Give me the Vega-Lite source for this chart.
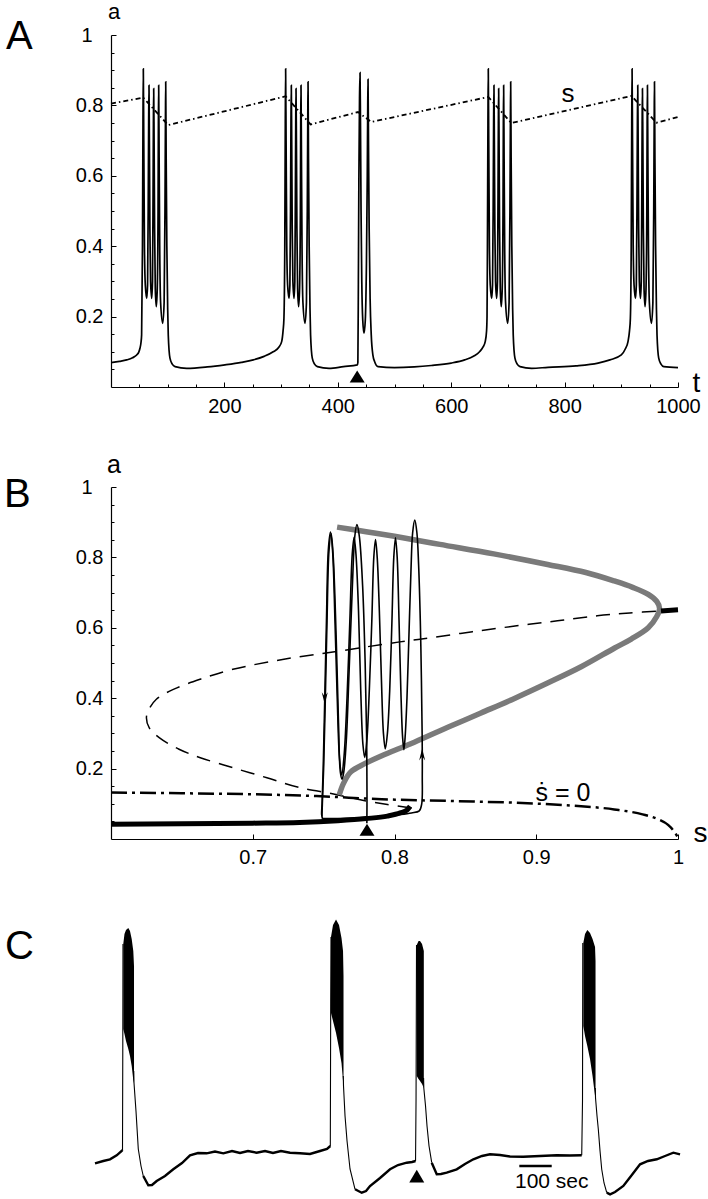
{
"$schema": "https://vega.github.io/schema/vega-lite/v6.json",
"padding": {"left": 4, "top": 0, "right": 0, "bottom": 0},
"background": "white",
"spacing": 100,
"bounds": "flush",
"config": {
  "view": {"stroke": null},
  "font": "Liberation Sans",
  "axis": {"grid": false, "domainColor": "black", "domainWidth": 1.2, "tickColor": "black", "tickWidth": 1, "labelColor": "black", "labelFont": "Liberation Sans", "labelFontSize": 20, "titleFont": "Liberation Sans", "titleFontWeight": "normal", "titleColor": "black", "labelOverlap": false, "labelFlush": false},
  "title": {"font": "Liberation Sans", "fontSize": 40, "fontWeight": "normal", "color": "black", "anchor": "start", "frame": "group", "offset": 0}
},
"datasets": {
  "A_a": [
    {"t":0,"a":0.0695},{"t":15,"a":0.073},{"t":27.7,"a":0.077},{"t":38,"a":0.083},{"t":45.3,"a":0.091},{"t":49,"a":0.099},{"t":51.1,"a":0.11},{"t":52.8,"a":0.125},{"t":54,"a":0.148},
    {"t":55.5,"a":0.4},{"t":56.4,"a":0.75},{"t":57,"a":0.904},{"t":57.8,"a":0.7},{"t":59,"a":0.4},{"t":60.5,"a":0.29},{"t":63,"a":0.252},{"t":64.5,"a":0.29},{"t":65.6,"a":0.5},{"t":66.4,"a":0.75},{"t":67,"a":0.857},{"t":67.7,"a":0.7},{"t":68.6,"a":0.45},{"t":69.8,"a":0.3},{"t":71.8,"a":0.252},{"t":73.2,"a":0.3},{"t":74.2,"a":0.55},{"t":74.8,"a":0.75},{"t":75.3,"a":0.848},{"t":76,"a":0.7},{"t":76.9,"a":0.45},{"t":78.1,"a":0.28},{"t":79.9,"a":0.228},{"t":81.6,"a":0.28},{"t":83,"a":0.5},{"t":83.6,"a":0.75},{"t":84.1,"a":0.857},{"t":84.9,"a":0.65},{"t":85.9,"a":0.4},{"t":87.5,"a":0.24},{"t":91.2,"a":0.181},{"t":93.7,"a":0.24},{"t":95.2,"a":0.5},{"t":96,"a":0.75},{"t":96.5,"a":0.867},{"t":97.3,"a":0.65},{"t":98.5,"a":0.4},{"t":100,"a":0.22},{"t":101,"a":0.148},{"t":104,"a":0.082},{"t":108,"a":0.065},{"t":113,"a":0.058},{"t":133.5,"a":0.053},
    {"t":170,"a":0.057},{"t":201,"a":0.063},{"t":230,"a":0.07},{"t":251,"a":0.077},{"t":270,"a":0.087},{"t":286,"a":0.1},{"t":296,"a":0.113},{"t":301,"a":0.129},{"t":303.5,"a":0.16},{"t":305,"a":0.195},
    {"t":306.5,"a":0.4},{"t":307.4,"a":0.75},{"t":308,"a":0.904},{"t":308.8,"a":0.7},{"t":310,"a":0.4},{"t":311.5,"a":0.29},{"t":314,"a":0.252},{"t":315.5,"a":0.29},{"t":316.6,"a":0.5},{"t":317.4,"a":0.75},{"t":318,"a":0.857},{"t":318.7,"a":0.7},{"t":319.6,"a":0.45},{"t":320.8,"a":0.3},{"t":322.8,"a":0.252},{"t":324.2,"a":0.3},{"t":325.2,"a":0.55},{"t":325.8,"a":0.75},{"t":326.3,"a":0.848},{"t":327,"a":0.7},{"t":327.9,"a":0.45},{"t":329.1,"a":0.28},{"t":330.9,"a":0.228},{"t":332.6,"a":0.28},{"t":334,"a":0.5},{"t":334.6,"a":0.75},{"t":335.1,"a":0.857},{"t":335.9,"a":0.65},{"t":336.9,"a":0.4},{"t":338.5,"a":0.24},{"t":342.2,"a":0.181},{"t":344.7,"a":0.24},{"t":346.2,"a":0.5},{"t":347,"a":0.75},{"t":347.5,"a":0.867},{"t":348.3,"a":0.65},{"t":349.5,"a":0.4},{"t":351,"a":0.22},{"t":352,"a":0.148},{"t":355,"a":0.082},{"t":359,"a":0.065},{"t":364,"a":0.058},{"t":384.5,"a":0.053},
    {"t":410,"a":0.058},{"t":434.5,"a":0.063},
    {"t":435.4,"a":0.07},{"t":436.3,"a":0.3},{"t":437.2,"a":0.6},{"t":438.3,"a":0.82},{"t":439.2,"a":0.893},{"t":440,"a":0.75},{"t":441,"a":0.5},{"t":442.3,"a":0.3},{"t":444,"a":0.19},{"t":446.2,"a":0.153},{"t":448.5,"a":0.19},{"t":450.5,"a":0.35},{"t":452,"a":0.6},{"t":452.8,"a":0.8},{"t":453.3,"a":0.874},{"t":454.1,"a":0.7},{"t":455.3,"a":0.45},{"t":457,"a":0.25},{"t":459,"a":0.148},{"t":462,"a":0.09},{"t":465,"a":0.072},{"t":471,"a":0.058},{"t":500,"a":0.055},{"t":535,"a":0.057},{"t":565,"a":0.061},{"t":600,"a":0.068},{"t":623.8,"a":0.077},{"t":640,"a":0.088},{"t":650,"a":0.1},{"t":656,"a":0.113},{"t":660,"a":0.129},{"t":662.4,"a":0.16},{"t":663.2,"a":0.2},
    {"t":663.9,"a":0.4},{"t":664.8,"a":0.75},{"t":665.4,"a":0.904},{"t":666.2,"a":0.7},{"t":667.4,"a":0.4},{"t":668.9,"a":0.29},{"t":671.4,"a":0.252},{"t":672.9,"a":0.29},{"t":674,"a":0.5},{"t":674.8,"a":0.75},{"t":675.4,"a":0.857},{"t":676.1,"a":0.7},{"t":677,"a":0.45},{"t":678.2,"a":0.3},{"t":680.2,"a":0.252},{"t":681.6,"a":0.3},{"t":682.6,"a":0.55},{"t":683.2,"a":0.75},{"t":683.7,"a":0.848},{"t":684.4,"a":0.7},{"t":685.3,"a":0.45},{"t":686.5,"a":0.28},{"t":688.3,"a":0.228},{"t":690,"a":0.28},{"t":691.4,"a":0.5},{"t":692,"a":0.75},{"t":692.5,"a":0.857},{"t":693.3,"a":0.65},{"t":694.3,"a":0.4},{"t":695.9,"a":0.24},{"t":699.6,"a":0.181},{"t":702.1,"a":0.24},{"t":703.6,"a":0.5},{"t":704.4,"a":0.75},{"t":704.9,"a":0.867},{"t":705.7,"a":0.65},{"t":706.9,"a":0.4},{"t":708.4,"a":0.22},{"t":709.4,"a":0.148},{"t":712.4,"a":0.082},{"t":716.4,"a":0.065},{"t":721.4,"a":0.058},{"t":741.9,"a":0.053},
    {"t":770.7,"a":0.056},{"t":820,"a":0.06},{"t":859,"a":0.068},{"t":880,"a":0.077},{"t":900,"a":0.091},{"t":907,"a":0.108},{"t":911.8,"a":0.129},{"t":914.5,"a":0.16},{"t":916,"a":0.195},
    {"t":917.5,"a":0.4},{"t":918.4,"a":0.75},{"t":919,"a":0.904},{"t":919.8,"a":0.7},{"t":921,"a":0.4},{"t":922.5,"a":0.29},{"t":925,"a":0.252},{"t":926.5,"a":0.29},{"t":927.6,"a":0.5},{"t":928.4,"a":0.75},{"t":929,"a":0.857},{"t":929.7,"a":0.7},{"t":930.6,"a":0.45},{"t":931.8,"a":0.3},{"t":933.8,"a":0.252},{"t":935.2,"a":0.3},{"t":936.2,"a":0.55},{"t":936.8,"a":0.75},{"t":937.3,"a":0.848},{"t":938,"a":0.7},{"t":938.9,"a":0.45},{"t":940.1,"a":0.28},{"t":941.9,"a":0.228},{"t":943.6,"a":0.28},{"t":945,"a":0.5},{"t":945.6,"a":0.75},{"t":946.1,"a":0.857},{"t":946.9,"a":0.65},{"t":947.9,"a":0.4},{"t":949.5,"a":0.24},{"t":953.2,"a":0.181},{"t":955.7,"a":0.24},{"t":957.2,"a":0.5},{"t":958,"a":0.75},{"t":958.5,"a":0.867},{"t":959.3,"a":0.65},{"t":960.5,"a":0.4},{"t":962,"a":0.22},{"t":963,"a":0.148},{"t":966,"a":0.082},{"t":970,"a":0.065},{"t":975,"a":0.058},{"t":1000,"a":0.055}
  ],
  "A_s": [
    {"t":0,"a":0.805},{"t":57,"a":0.822},{"t":101,"a":0.744},{"t":308,"a":0.826},{"t":352,"a":0.746},{"t":435.6,"a":0.781},{"t":459,"a":0.753},{"t":665.4,"a":0.824},{"t":706,"a":0.75},{"t":918,"a":0.827},{"t":962,"a":0.751},{"t":1000,"a":0.767}
  ],
  "B_mid": [
    {"i":1,"s":0.812,"a":0.088},{"i":2,"s":0.795,"a":0.098},{"i":3,"s":0.775,"a":0.112},{"i":4,"s":0.757,"a":0.128},{"i":5,"s":0.733,"a":0.146},{"i":6,"s":0.71,"a":0.174},{"i":7,"s":0.686,"a":0.2025},{"i":8,"s":0.663,"a":0.231},{"i":9,"s":0.648,"a":0.255},{"i":10,"s":0.634,"a":0.288},{"i":11,"s":0.627,"a":0.316},{"i":12,"s":0.625,"a":0.345},{"i":13,"s":0.627,"a":0.37},{"i":14,"s":0.632,"a":0.397},{"i":15,"s":0.644,"a":0.425},{"i":16,"s":0.663,"a":0.454},{"i":17,"s":0.686,"a":0.482},{"i":18,"s":0.721,"a":0.51},{"i":19,"s":0.761,"a":0.534},{"i":20,"s":0.8037,"a":0.56},{"i":21,"s":0.826,"a":0.572},{"i":22,"s":0.855,"a":0.589},{"i":23,"s":0.885,"a":0.605},{"i":24,"s":0.915,"a":0.62},{"i":25,"s":0.943,"a":0.634},{"i":26,"s":0.966,"a":0.642},{"i":27,"s":0.988,"a":0.648}
  ],
  "B_null": [
    {"s":0.6,"a":0.132},{"s":0.65,"a":0.13},{"s":0.7,"a":0.127},{"s":0.745,"a":0.122},{"s":0.791,"a":0.113},{"s":0.84,"a":0.108},{"s":0.885,"a":0.103},{"s":0.92,"a":0.096},{"s":0.955,"a":0.084},{"s":0.975,"a":0.07},{"s":0.986,"a":0.056},{"s":0.993,"a":0.04},{"s":0.997,"a":0.023},{"s":1.0,"a":0.004}
  ],
  "B_gray": [
    {"i":1,"s":0.7595,"a":0.886},{"i":2,"s":0.78,"a":0.873},{"i":3,"s":0.8,"a":0.86},{"i":4,"s":0.832,"a":0.837},{"i":5,"s":0.87,"a":0.81},{"i":6,"s":0.908,"a":0.78},{"i":7,"s":0.935,"a":0.757},{"i":8,"s":0.955,"a":0.733},{"i":9,"s":0.968,"a":0.715},{"i":10,"s":0.979,"a":0.695},{"i":11,"s":0.985,"a":0.675},{"i":12,"s":0.987,"a":0.655},{"i":13,"s":0.985,"a":0.632},{"i":14,"s":0.979,"a":0.6},{"i":15,"s":0.967,"a":0.568},{"i":16,"s":0.955,"a":0.542},{"i":17,"s":0.932,"a":0.49},{"i":18,"s":0.908,"a":0.443},{"i":19,"s":0.885,"a":0.4},{"i":20,"s":0.861,"a":0.358},{"i":21,"s":0.838,"a":0.318},{"i":22,"s":0.814,"a":0.275},{"i":23,"s":0.7906,"a":0.236},{"i":24,"s":0.779,"a":0.214},{"i":25,"s":0.769,"a":0.19},{"i":26,"s":0.764,"a":0.158},{"i":27,"s":0.761,"a":0.125}
  ],
  "B_stable": [
    {"g":"low","s":0.6,"a":0.042},{"g":"low","s":0.65,"a":0.043},{"g":"low","s":0.7,"a":0.045},{"g":"low","s":0.733,"a":0.047},{"g":"low","s":0.76,"a":0.052},{"g":"low","s":0.78,"a":0.058},{"g":"low","s":0.795,"a":0.065},{"g":"low","s":0.804,"a":0.074},{"g":"low","s":0.809,"a":0.083},{"g":"low","s":0.811,"a":0.093},
    {"g":"high","s":0.988,"a":0.648},{"g":"high","s":1.0,"a":0.651}
  ],
  "B_traj": [
    {"g":"burst","i":1,"s":0.7487,"a":0.058},{"g":"burst","i":2,"s":0.76,"a":0.058},{"g":"burst","i":3,"s":0.775,"a":0.06},{"g":"burst","i":4,"s":0.79,"a":0.064},{"g":"burst","i":5,"s":0.803,"a":0.069},{"g":"burst","i":6,"s":0.812,"a":0.074},{"g":"burst","i":7,"s":0.8175,"a":0.08},{"g":"burst","i":8,"s":0.8192,"a":0.1},{"g":"burst","i":9,"s":0.8196,"a":0.18},{"g":"burst","i":10,"s":0.8195,"a":0.3},
    {"g":"burst","i":11,"s":0.819,"a":0.45},{"g":"burst","i":12,"s":0.8182,"a":0.62},{"g":"burst","i":13,"s":0.817,"a":0.78},{"g":"burst","i":14,"s":0.8158,"a":0.87},{"g":"burst","i":15,"s":0.8143,"a":0.906},{"g":"burst","i":16,"s":0.8128,"a":0.87},{"g":"burst","i":17,"s":0.8116,"a":0.76},{"g":"burst","i":18,"s":0.8102,"a":0.58},{"g":"burst","i":19,"s":0.8088,"a":0.4},{"g":"burst","i":20,"s":0.8075,"a":0.29},
    {"g":"burst","i":21,"s":0.8066,"a":0.254},{"g":"burst","i":22,"s":0.8057,"a":0.29},{"g":"burst","i":23,"s":0.8045,"a":0.42},{"g":"burst","i":24,"s":0.8032,"a":0.62},{"g":"burst","i":25,"s":0.8019,"a":0.8},{"g":"burst","i":26,"s":0.8007,"a":0.856},{"g":"burst","i":27,"s":0.7995,"a":0.8},{"g":"burst","i":28,"s":0.7982,"a":0.62},{"g":"burst","i":29,"s":0.7966,"a":0.42},{"g":"burst","i":30,"s":0.795,"a":0.3},
    {"g":"burst","i":31,"s":0.7935,"a":0.256},{"g":"burst","i":32,"s":0.7922,"a":0.3},{"g":"burst","i":33,"s":0.7908,"a":0.45},{"g":"burst","i":34,"s":0.7893,"a":0.65},{"g":"burst","i":35,"s":0.7878,"a":0.8},{"g":"burst","i":36,"s":0.7866,"a":0.851},{"g":"burst","i":37,"s":0.7854,"a":0.8},{"g":"burst","i":38,"s":0.784,"a":0.62},{"g":"burst","i":39,"s":0.7822,"a":0.42},{"g":"burst","i":40,"s":0.7805,"a":0.28},
    {"g":"burst","i":41,"s":0.779,"a":0.232},{"g":"burst","i":42,"s":0.7777,"a":0.27},{"g":"burst","i":43,"s":0.7762,"a":0.42},{"g":"burst","i":44,"s":0.7746,"a":0.65},{"g":"burst","i":45,"s":0.7728,"a":0.81},{"g":"burst","i":46,"s":0.7715,"a":0.857},{"g":"burst","i":47,"s":0.7702,"a":0.81},{"g":"burst","i":48,"s":0.7685,"a":0.62},{"g":"burst","i":49,"s":0.7665,"a":0.4},{"g":"burst","i":50,"s":0.7645,"a":0.24},
    {"g":"burst","i":51,"s":0.7628,"a":0.182},{"g":"burst","i":52,"s":0.7612,"a":0.23},{"g":"burst","i":53,"s":0.7596,"a":0.4},{"g":"burst","i":54,"s":0.758,"a":0.62},{"g":"burst","i":55,"s":0.7563,"a":0.82},{"g":"burst","i":56,"s":0.7548,"a":0.872},{"g":"burst","i":57,"s":0.7533,"a":0.82},{"g":"burst","i":58,"s":0.752,"a":0.62},{"g":"burst","i":59,"s":0.7508,"a":0.4},{"g":"burst","i":60,"s":0.7497,"a":0.2},
    {"g":"burst","i":61,"s":0.7489,"a":0.1},{"g":"burst","i":62,"s":0.7486,"a":0.07},{"g":"burst","i":63,"s":0.7492,"a":0.058},
    {"g":"kick","i":1,"s":0.7805,"a":0.045},{"g":"kick","i":2,"s":0.7806,"a":0.12},{"g":"kick","i":3,"s":0.7803,"a":0.3},{"g":"kick","i":4,"s":0.7793,"a":0.5},{"g":"kick","i":5,"s":0.7775,"a":0.72},{"g":"kick","i":6,"s":0.7752,"a":0.86},{"g":"kick","i":7,"s":0.7735,"a":0.893},{"g":"kick","i":8,"s":0.772,"a":0.86},{"g":"kick","i":9,"s":0.7703,"a":0.72},{"g":"kick","i":10,"s":0.768,"a":0.48},
    {"g":"kick","i":11,"s":0.766,"a":0.28},{"g":"kick","i":12,"s":0.7642,"a":0.19},{"g":"kick","i":13,"s":0.763,"a":0.17},{"g":"kick","i":14,"s":0.7618,"a":0.19},{"g":"kick","i":15,"s":0.7605,"a":0.33},{"g":"kick","i":16,"s":0.7588,"a":0.58},{"g":"kick","i":17,"s":0.7568,"a":0.8},{"g":"kick","i":18,"s":0.7553,"a":0.868},{"g":"kick","i":19,"s":0.7538,"a":0.82},{"g":"kick","i":20,"s":0.7524,"a":0.62},
    {"g":"kick","i":21,"s":0.7512,"a":0.4},{"g":"kick","i":22,"s":0.75,"a":0.2},{"g":"kick","i":23,"s":0.7491,"a":0.1},{"g":"kick","i":24,"s":0.7488,"a":0.065}
  ],
  "C_trace": [
    {"part":1,"phase":"slow","sec":0,"v":32.7},{"part":1,"phase":"slow","sec":25.6,"v":35},{"part":1,"phase":"slow","sec":46.3,"v":36.7},{"part":1,"phase":"slow","sec":67,"v":40.7},{"part":1,"phase":"slow","sec":82.4,"v":45},{"part":1,"phase":"slow","sec":84.9,"v":46},
    {"part":2,"phase":"fast","sec":84.9,"v":46},{"part":2,"phase":"fast","sec":85.8,"v":150},{"part":2,"phase":"fast","sec":86.4,"v":252},
    {"part":3,"phase":"fast","sec":119.6,"v":125},{"part":3,"phase":"fast","sec":120.4,"v":113},{"part":3,"phase":"fast","sec":126.5,"v":85},{"part":3,"phase":"fast","sec":133.6,"v":47},{"part":3,"phase":"fast","sec":142,"v":30},{"part":3,"phase":"fast","sec":149,"v":20},
    {"part":4,"phase":"slow","sec":149,"v":20},{"part":4,"phase":"slow","sec":164.5,"v":10.7},{"part":4,"phase":"slow","sec":175.9,"v":11},{"part":4,"phase":"slow","sec":190.4,"v":15},{"part":4,"phase":"slow","sec":216,"v":20},{"part":4,"phase":"slow","sec":241.6,"v":26.7},{"part":4,"phase":"slow","sec":268.5,"v":33},{"part":4,"phase":"slow","sec":293.2,"v":40.7},{"part":4,"phase":"slow","sec":317.9,"v":43},{"part":4,"phase":"slow","sec":344.7,"v":42.7},{"part":4,"phase":"slow","sec":370.3,"v":44.5},{"part":4,"phase":"slow","sec":396,"v":42.7},{"part":4,"phase":"slow","sec":422.8,"v":45},{"part":4,"phase":"slow","sec":447.5,"v":43},{"part":4,"phase":"slow","sec":472.2,"v":45},{"part":4,"phase":"slow","sec":499,"v":43.3},{"part":4,"phase":"slow","sec":524.6,"v":45},{"part":4,"phase":"slow","sec":549.3,"v":43},{"part":4,"phase":"slow","sec":574,"v":45},{"part":4,"phase":"slow","sec":601.8,"v":43.3},{"part":4,"phase":"slow","sec":632.6,"v":42.7},{"part":4,"phase":"slow","sec":663.5,"v":42},{"part":4,"phase":"slow","sec":694.4,"v":45},{"part":4,"phase":"slow","sec":716,"v":47},{"part":4,"phase":"slow","sec":726.2,"v":50},
    {"part":5,"phase":"fast","sec":726.2,"v":50},{"part":5,"phase":"fast","sec":727.4,"v":195},{"part":5,"phase":"fast","sec":728.3,"v":259},
    {"part":6,"phase":"fast","sec":766.2,"v":120},{"part":6,"phase":"fast","sec":766.9,"v":110},{"part":6,"phase":"fast","sec":771.6,"v":80},{"part":6,"phase":"fast","sec":777.8,"v":55},{"part":6,"phase":"fast","sec":787,"v":27},{"part":6,"phase":"fast","sec":802.5,"v":6.7},
    {"part":7,"phase":"slow","sec":802.5,"v":6.7},{"part":7,"phase":"slow","sec":823.1,"v":3.3},{"part":7,"phase":"slow","sec":836.4,"v":5},{"part":7,"phase":"slow","sec":848.7,"v":10},{"part":7,"phase":"slow","sec":879.6,"v":18},{"part":7,"phase":"slow","sec":910.5,"v":26.7},{"part":7,"phase":"slow","sec":935.1,"v":31},{"part":7,"phase":"slow","sec":962,"v":33.3},{"part":7,"phase":"slow","sec":978.4,"v":34},{"part":7,"phase":"slow","sec":989.2,"v":35},
    {"part":8,"phase":"fast","sec":989.2,"v":35},{"part":8,"phase":"fast","sec":990.7,"v":95},{"part":8,"phase":"fast","sec":992.2,"v":251},
    {"part":9,"phase":"fast","sec":1014,"v":118},{"part":9,"phase":"fast","sec":1014.7,"v":108},{"part":9,"phase":"fast","sec":1020,"v":90},{"part":9,"phase":"fast","sec":1024.6,"v":70},{"part":9,"phase":"fast","sec":1030.8,"v":50},{"part":9,"phase":"fast","sec":1039.1,"v":33.3},
    {"part":10,"phase":"slow","sec":1039.1,"v":33.3},{"part":10,"phase":"slow","sec":1054.6,"v":21.7},{"part":10,"phase":"slow","sec":1067.7,"v":22},{"part":10,"phase":"slow","sec":1085.3,"v":23.3},{"part":10,"phase":"slow","sec":1116.2,"v":26.7},{"part":10,"phase":"slow","sec":1141.8,"v":32},{"part":10,"phase":"slow","sec":1167.5,"v":36.7},{"part":10,"phase":"slow","sec":1194.3,"v":40},{"part":10,"phase":"slow","sec":1219,"v":41.7},{"part":10,"phase":"slow","sec":1249.8,"v":41},{"part":10,"phase":"slow","sec":1280.7,"v":39.5},{"part":10,"phase":"slow","sec":1321.8,"v":39.3},{"part":10,"phase":"slow","sec":1373.3,"v":40},{"part":10,"phase":"slow","sec":1424.8,"v":40.7},{"part":10,"phase":"slow","sec":1465.8,"v":40.5},{"part":10,"phase":"slow","sec":1502,"v":40.7},
    {"part":11,"phase":"fast","sec":1502,"v":40.7},{"part":11,"phase":"fast","sec":1504.4,"v":95},{"part":11,"phase":"fast","sec":1505.3,"v":253},
    {"part":12,"phase":"fast","sec":1543.9,"v":108},{"part":12,"phase":"fast","sec":1544.6,"v":98},{"part":12,"phase":"fast","sec":1549.2,"v":80},{"part":12,"phase":"fast","sec":1553.2,"v":66.7},{"part":12,"phase":"fast","sec":1558.5,"v":45},{"part":12,"phase":"fast","sec":1563.7,"v":26.7},{"part":12,"phase":"fast","sec":1570.8,"v":13},{"part":12,"phase":"fast","sec":1579.2,"v":3.3},
    {"part":13,"phase":"slow","sec":1579.2,"v":3.3},{"part":13,"phase":"slow","sec":1589.4,"v":1.7},{"part":13,"phase":"slow","sec":1604.8,"v":4},{"part":13,"phase":"slow","sec":1630.4,"v":10},{"part":13,"phase":"slow","sec":1654.2,"v":20},{"part":13,"phase":"slow","sec":1682,"v":31.7},{"part":13,"phase":"slow","sec":1706.6,"v":35},{"part":13,"phase":"slow","sec":1733.5,"v":36.7},{"part":13,"phase":"slow","sec":1759.1,"v":40},{"part":13,"phase":"slow","sec":1784.7,"v":43.3},{"part":13,"phase":"slow","sec":1805.4,"v":41.7}
  ],
  "C_burst": [
    {"burst":1,"sec":87.3,"top":252,"bot":167},{"burst":1,"sec":91,"top":262,"bot":162},{"burst":1,"sec":95.7,"top":266,"bot":155},{"burst":1,"sec":102.8,"top":268,"bot":147},{"burst":1,"sec":108,"top":265,"bot":140},{"burst":1,"sec":113.3,"top":257,"bot":130},{"burst":1,"sec":118.2,"top":245,"bot":116},{"burst":1,"sec":120.4,"top":230,"bot":113},
    {"burst":2,"sec":728.3,"top":259,"bot":183},{"burst":2,"sec":734.5,"top":271,"bot":175},{"burst":2,"sec":743.8,"top":276.5,"bot":163},{"burst":2,"sec":753,"top":271,"bot":148},{"burst":2,"sec":760.7,"top":258,"bot":133},{"burst":2,"sec":765.4,"top":245,"bot":115},{"burst":2,"sec":766.9,"top":220,"bot":110},
    {"burst":3,"sec":992.9,"top":251,"bot":120},{"burst":3,"sec":998.5,"top":255,"bot":117},{"burst":3,"sec":1003,"top":255,"bot":115},{"burst":3,"sec":1009.2,"top":252,"bot":112},{"burst":3,"sec":1014.7,"top":245,"bot":108},
    {"burst":4,"sec":1506.9,"top":253,"bot":170},{"burst":4,"sec":1512.2,"top":262,"bot":160},{"burst":4,"sec":1519.3,"top":266,"bot":150},{"burst":4,"sec":1527.6,"top":263,"bot":137},{"burst":4,"sec":1535.4,"top":257,"bot":120},{"burst":4,"sec":1543.1,"top":249,"bot":100},{"burst":4,"sec":1544.6,"top":235,"bot":98}
  ]
},
"vconcat": [
  {
    "width": 567, "height": 352,
    "title": {"text": "A", "dx": -105, "dy": 61},
    "encoding": {
      "x": {"field": "t", "type": "quantitative", "scale": {"domain": [0, 1000], "nice": false, "zero": false},
        "axis": {"values": [50,100,150,200,250,300,350,400,450,500,550,600,650,700,750,800,850,900,950,1000], "format": "d",
          "labelExpr": "datum.value % 200 === 0 ? datum.label : ''",
          "tickSize": {"condition": {"test": "datum.value % 200 === 0", "value": -5}, "value": -3},
          "labelPadding": 14.5, "title": "t", "titleX": 585, "titleY": 4, "titleAlign": "center", "titleBaseline": "alphabetic", "titleFontSize": 28}},
      "y": {"field": "a", "type": "quantitative", "scale": {"domain": [0, 1], "nice": false},
        "axis": {"values": [0.05,0.1,0.15,0.2,0.25,0.3,0.35,0.4,0.45,0.5,0.55,0.6,0.65,0.7,0.75,0.8,0.85,0.9,0.95,1], "format": "~g",
          "labelExpr": "abs(round(datum.value*5) - datum.value*5) < 0.001 ? datum.label : ''",
          "tickSize": {"condition": {"test": "abs(round(datum.value*5) - datum.value*5) < 0.001", "value": -5}, "value": -3},
          "labelPadding": {"condition": {"test": "datum.value > 0.99", "value": 24}, "value": 13},
          "title": "a", "titleAngle": 0, "titleX": 2.5, "titleY": -17, "titleAlign": "center", "titleBaseline": "alphabetic", "titleFontSize": 22}}
    },
    "layer": [
      {"data": {"name": "A_a"}, "mark": {"type": "line", "color": "black", "strokeWidth": 1.7, "interpolate": "monotone"}, "encoding": {}},
      {"data": {"name": "A_s"}, "mark": {"type": "line", "color": "black", "strokeWidth": 1.8, "strokeDash": [5, 3, 1.5, 3]}, "encoding": {}},
      {"data": {"values": [{"t": 806, "a": 0.81, "label": "s"}]}, "mark": {"type": "text", "fontSize": 26, "baseline": "alphabetic", "align": "center", "font": "Liberation Sans", "color": "black"}, "encoding": {"text": {"field": "label"}}},
      {"data": {"values": [{"t": 434.2, "a": 0.03}]}, "mark": {"type": "point", "shape": "M-1,0.8L1,0.8L0,-0.8Z", "size": 225, "filled": true, "color": "black", "opacity": 1}, "encoding": {}}
    ]
  },
  {
    "width": 567, "height": 352,
    "title": {"text": "B", "dx": -107, "dy": 66},
    "encoding": {
      "x": {"field": "s", "type": "quantitative", "scale": {"domain": [0.6, 1.0], "nice": false, "zero": false},
        "axis": {"values": [0.7, 0.8, 0.9, 1], "format": "~g", "tickSize": -5, "labelPadding": 13,
          "title": "s", "titleX": 589, "titleY": 2, "titleAlign": "center", "titleBaseline": "alphabetic", "titleFontSize": 28}},
      "y": {"field": "a", "type": "quantitative", "scale": {"domain": [0, 1], "nice": false},
        "axis": {"values": [0.05,0.1,0.15,0.2,0.25,0.3,0.35,0.4,0.45,0.5,0.55,0.6,0.65,0.7,0.75,0.8,0.85,0.9,0.95,1], "format": "~g",
          "labelExpr": "abs(round(datum.value*5) - datum.value*5) < 0.001 ? datum.label : ''",
          "tickSize": {"condition": {"test": "abs(round(datum.value*5) - datum.value*5) < 0.001", "value": -5}, "value": -3},
          "labelPadding": {"condition": {"test": "datum.value > 0.99", "value": 24}, "value": 13},
          "title": "a", "titleAngle": 0, "titleX": 2.4, "titleY": -14.3, "titleAlign": "center", "titleBaseline": "alphabetic", "titleFontSize": 25}}
    },
    "layer": [
      {"data": {"name": "B_mid"}, "mark": {"type": "line", "color": "black", "strokeWidth": 1.5, "strokeDash": [14, 9], "interpolate": "catmull-rom"}, "encoding": {"order": {"field": "i", "type": "quantitative"}}},
      {"data": {"name": "B_null"}, "mark": {"type": "line", "color": "black", "strokeWidth": 2.5, "strokeDash": [16, 5, 3, 5], "interpolate": "monotone"}, "encoding": {}},
      {"data": {"name": "B_gray"}, "mark": {"type": "line", "color": "#7a7a7a", "strokeWidth": 5.5, "interpolate": "catmull-rom"}, "encoding": {"order": {"field": "i", "type": "quantitative"}}},
      {"data": {"name": "B_stable"}, "mark": {"type": "line", "color": "black", "strokeWidth": 5, "interpolate": "monotone"}, "encoding": {"detail": {"field": "g"}}},
      {"data": {"name": "B_traj"}, "mark": {"type": "line", "color": "black", "strokeWidth": 1.6, "interpolate": "catmull-rom"}, "encoding": {"detail": {"field": "g"}, "order": {"field": "i", "type": "quantitative"}}},
      {"data": {"values": [{"s": 0.7508, "a": 0.4, "dir": "down"}, {"s": 0.8195, "a": 0.24, "dir": "up"}]}, "mark": {"type": "point", "size": 144, "filled": true, "color": "black", "opacity": 1},
        "encoding": {"shape": {"field": "dir", "type": "nominal", "scale": {"domain": ["down", "up"], "range": ["M-0.5,-1L0,1L0.5,-1L0,-0.3Z", "M-0.5,1L0,-1L0.5,1L0,0.3Z"]}, "legend": null}}},
      {"data": {"values": [{"s": 0.7806, "a": 0.026}]}, "mark": {"type": "point", "shape": "M-1,0.8L1,0.8L0,-0.8Z", "size": 225, "filled": true, "color": "black", "opacity": 1}, "encoding": {}},
      {"data": {"values": [{"s": 0.9188, "a": 0.108, "label": "ṡ = 0"}]}, "mark": {"type": "text", "fontSize": 25, "baseline": "alphabetic", "align": "center", "font": "Liberation Sans", "color": "black"}, "encoding": {"text": {"field": "label"}}}
    ]
  },
  {
    "width": 567, "height": 257,
    "title": {"text": "C", "dx": -106, "dy": 51},
    "encoding": {
      "x": {"field": "sec", "type": "quantitative", "scale": {"domain": [49.4, 1799.1], "nice": false, "zero": false}, "axis": null},
      "y": {"field": "v", "type": "quantitative", "scale": {"domain": [0, 257], "nice": false}, "axis": null}
    },
    "layer": [
      {"data": {"name": "C_trace"}, "transform": [{"filter": "datum.phase === 'fast'"}], "mark": {"type": "line", "color": "black", "strokeWidth": 1.1}, "encoding": {"detail": {"field": "part"}}},
      {"data": {"name": "C_trace"}, "transform": [{"filter": "datum.phase === 'slow'"}], "mark": {"type": "line", "color": "black", "strokeWidth": 2.4}, "encoding": {"detail": {"field": "part"}}},
      {"data": {"name": "C_burst"}, "mark": {"type": "area", "color": "black", "opacity": 1}, "encoding": {"y": {"field": "top", "type": "quantitative"}, "y2": {"field": "bot"}, "detail": {"field": "burst"}}},
      {"data": {"values": [{"sec": 1309.4, "sec2": 1409.4, "v": 30}]}, "mark": {"type": "rule", "strokeWidth": 2.5, "color": "black"}, "encoding": {"x2": {"field": "sec2"}}},
      {"data": {"values": [{"sec": 1296, "v": 8.3, "label": "100 sec"}]}, "mark": {"type": "text", "align": "left", "baseline": "alphabetic", "fontSize": 21, "font": "Liberation Sans", "color": "black"}, "encoding": {"text": {"field": "label"}}},
      {"data": {"values": [{"sec": 992.9, "v": 20}]}, "mark": {"type": "point", "shape": "M-1,0.85L1,0.85L0,-0.85Z", "size": 225, "filled": true, "color": "black", "opacity": 1}, "encoding": {}}
    ]
  }
]
}
